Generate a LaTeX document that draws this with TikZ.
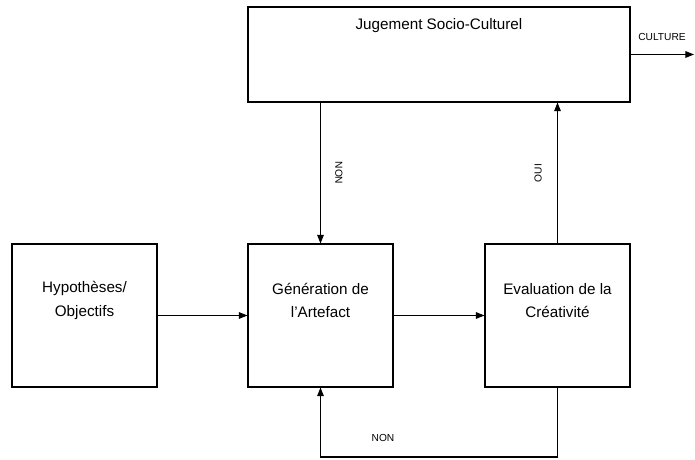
\documentclass[tikz,border=0pt]{standalone}
\usepackage{fontspec}
\setmainfont{Liberation Sans}
\usetikzlibrary{arrows.meta}

\begin{document}
\begin{tikzpicture}[
  bloc/.style={draw, line width=0.9pt, minimum width=4.35cm, minimum height=4.29cm, inner sep=0pt},
  texte/.style={align=center, font=\fontsize{13}{20}\selectfont},
  lien/.style={line width=0.9pt, -{Triangle[length=2.6mm,width=2mm]}},
  petit/.style={font=\fontsize{8.7}{10}\selectfont}]
  \useasboundingbox (0,0) rectangle (20.85,13.77);

  % Blocs
  \node[draw, line width=0.9pt, minimum width=11.46cm, minimum height=2.85cm, inner sep=0pt,
        label={[texte, anchor=north, yshift=-0.24cm]north:Jugement Socio-Culturel}] (juge) at (13.17,12.135) {};
  \node[bloc, label={[texte, yshift=0.45cm]center:Hypothèses/\\Objectifs}] (hyp) at (2.535,4.305) {};
  \node[bloc, label={[texte, yshift=0.45cm]center:Génération de\\l'Artefact}] (gen) at (9.615,4.305) {};
  \node[bloc, label={[texte, yshift=0.45cm]center:Evaluation de la\\Créativité}] (eval) at (16.725,4.305) {};

  \coordinate (culture) at (20.82,12.135);
  \coordinate (bas) at (0,0.06);

  % Liens
  \draw[lien] (hyp) -- (gen);
  \draw[lien] (gen) -- (eval);
  \draw[lien] (juge.south -| gen) -- (gen);
  \draw[lien] (eval) -- (eval |- juge.south);
  \draw[lien] (juge.east) -- (culture);
  \draw[lien] (eval.south) -- (eval.south |- bas) -| (gen.south);

  \node[petit, rotate=-90] (non) at (10.17,8.58) {NON};
  \node[petit, rotate=90] (oui) at (16.14,8.58) {OUI};
  \node[petit] (nonbas) at (11.49,0.63) {NON};
  \node[petit] (cult) at (19.86,12.66) {CULTURE};

\end{tikzpicture}
\end{document}
